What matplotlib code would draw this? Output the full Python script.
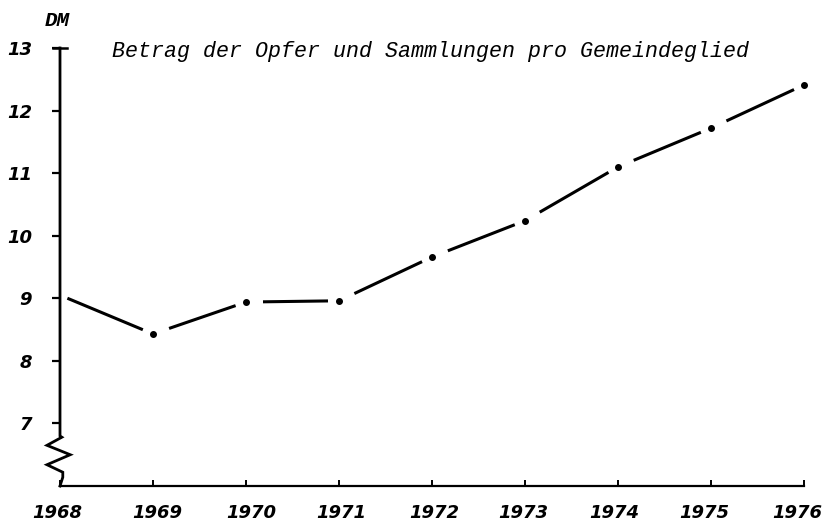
import numpy as np
from matplotlib import pyplot as plt
from matplotlib import transforms

years = [1968, 1969, 1970, 1971, 1972, 1973, 1974, 1975, 1976]
betrag = [9.05, 8.43, 8.94, 8.96, 9.66, 10.24, 11.10, 11.72, 12.41]
ytick_vals = [7, 8, 9, 10, 11, 12, 13]
title = "Betrag der Opfer und Sammlungen pro Gemeindeglied"
unit = "DM"

W, H = 829, 524
ax_l, ax_b, ax_w, ax_h = 60, 38, 744, 438   # axes box in pixels

fig = plt.figure(figsize=(W / 100, H / 100), dpi=100)
ax = fig.add_axes([ax_l / W, ax_b / H, ax_w / W, ax_h / H])
ax.set_xlim(1968, 1976)
ax.set_ylim(6, 13)

tickfont = dict(family="DejaVu Sans", style="italic", weight="bold", size=13)

for s in ["top", "right", "left"]:
    ax.spines[s].set_visible(False)
ax.spines["bottom"].set_linewidth(1.6)

ax.set_xticks(years)
ax.set_xticklabels([str(y) for y in years], fontdict=tickfont)
ax.tick_params(axis="x", direction="in", length=4, width=1.4, pad=13)
# the typewriter labels sit a bit unevenly under their ticks
label_dx = [-3, 4, 5, 2, 2, -2, -4, -7, -7]
for lab, dx in zip(ax.get_xticklabels(), label_dx):
    lab.set_transform(lab.get_transform() +
                      transforms.ScaledTranslation(dx / 100, 0, fig.dpi_scale_trans))

ax.set_yticks(ytick_vals)
ax.set_yticklabels([str(v) for v in ytick_vals], fontdict=tickfont)
ax.tick_params(axis="y", direction="out", length=6, width=1.6, pad=14)

# left axis with break (zigzag) near the bottom
zig_x = [1968, 1968, 1968.02, 1967.86, 1968.11, 1967.86, 1968.03, 1968.03, 1968]
zig_y = [13, 6.80, 6.78, 6.65, 6.50, 6.34, 6.22, 6.14, 6.0]
ax.plot(zig_x, zig_y, color="black", lw=2.0, clip_on=False, solid_joinstyle="miter")
# top cap
ax.plot([1967.93, 1968.07], [13, 13], color="black", lw=1.8, clip_on=False)

# data line: segments with gaps around the dots
sx = ax_w / 8.0   # px per year
sy = ax_h / 7.0   # px per DM
for i in range(len(years) - 1):
    x0, y0 = years[i], betrag[i]
    x1, y1 = years[i + 1], betrag[i + 1]
    L = np.hypot((x1 - x0) * sx, (y1 - y0) * sy)
    g0 = (8 if i == 0 else 17) / L
    g1 = 11 / L
    xa, ya = x0 + (x1 - x0) * g0, y0 + (y1 - y0) * g0
    xb, yb = x1 - (x1 - x0) * g1, y1 - (y1 - y0) * g1
    ax.plot([xa, xb], [ya, yb], color="black", lw=2.2,
            solid_capstyle="butt", clip_on=False)
ax.plot(years[1:], betrag[1:], "o", color="black", markersize=4, clip_on=False)

fig.text(112 / W, 1 - 52 / H, title, family="Liberation Mono", style="italic",
         size=15.6, va="center", ha="left")
fig.text(45 / W, 1 - 21 / H, unit, family="Liberation Mono", style="italic",
         weight="bold", size=15, va="center", ha="left")

fig.savefig("out.png", dpi=100)
